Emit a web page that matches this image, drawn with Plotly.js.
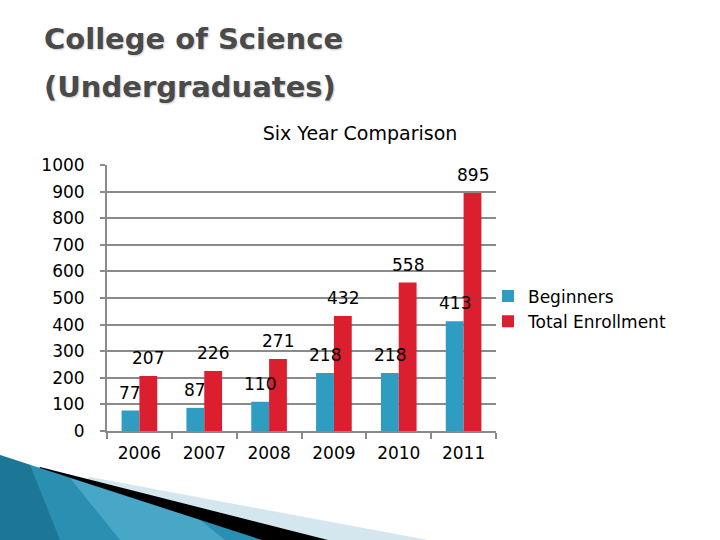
<!DOCTYPE html>
<html>
<head>
<meta charset="utf-8">
<script src="https://cdn.plot.ly/plotly-3.0.1.min.js"></script>
<style>
  html, body { margin: 0; padding: 0; background: #fff; }
  #chart { width: 720px; height: 540px; }
</style>
</head>
<body>
<div id="chart"></div>
<script>
const years = ['2006', '2007', '2008', '2009', '2010', '2011'];
const beginners = [77, 87, 110, 218, 218, 413];
const totalEnrollment = [207, 226, 271, 432, 558, 895];
const seriesNames = ['Beginners', 'Total Enrollment'];

// plot box in pixels
const ML = 107, MR = 224, MT = 165, MB = 109;
const PW = 720 - ML - MR, PH = 540 - MT - MB;
const px = (x) => (x - ML) / PW;
const py = (y) => (540 - MB - y) / PH;
const poly = (pts) => 'M' + pts.map(p => px(p[0]) + ',' + py(p[1])).join(' L') + ' Z';

const font = 'DejaVu Sans, sans-serif';
const grey = '#8a8a8a';

const data = [
  { x: years, y: beginners, name: seriesNames[0], type: 'bar', marker: { color: '#2e9dc1' } },
  { x: years, y: totalEnrollment, name: seriesNames[1], type: 'bar', marker: { color: '#dc1f2e' } },
];

// value labels; x given as category index so numeric-looking names are not read as numbers
const labels = [];
years.forEach((yr, i) => {
  labels.push({ x: i, y: beginners[i], text: String(beginners[i]), xshift: -9 });
  labels.push({ x: i, y: totalEnrollment[i], text: String(totalEnrollment[i]), xshift: 9 });
});
labels.forEach(a => Object.assign(a, {
  xref: 'x', yref: 'y', showarrow: false, yshift: 18, yanchor: 'middle',
  font: { family: font, size: 17, color: '#000' },
}));

labels.push({
  xref: 'paper', yref: 'paper', x: px(42), y: py(39), xanchor: 'left', yanchor: 'middle',
  showarrow: false, text: '<b>College of Science</b>',
  font: { family: font, size: 29, color: '#4a4a4a', shadow: '1px 1px 2px #c8c8c8' },
});
labels.push({
  xref: 'paper', yref: 'paper', x: px(42), y: py(87), xanchor: 'left', yanchor: 'middle',
  showarrow: false, text: '<b>(Undergraduates)</b>',
  font: { family: font, size: 29, color: '#4a4a4a', shadow: '1px 1px 2px #c8c8c8' },
});

// decorative swoosh, bottom left
const shapes = [
  { type: 'path', xref: 'paper', yref: 'paper', path: poly([[90, 477], [428, 540], [0, 540]]),
    fillcolor: '#d5e7ee', line: { width: 0 } },
  { type: 'path', xref: 'paper', yref: 'paper', path: poly([[40, 467], [328, 540], [0, 540]]),
    fillcolor: '#000000', line: { width: 0 } },
  { type: 'path', xref: 'paper', yref: 'paper', path: poly([[0, 455], [262, 540], [0, 540]]),
    fillcolor: '#2a8fb0', line: { width: 0 } },
  { type: 'path', xref: 'paper', yref: 'paper', path: poly([[70, 478], [200, 520], [225, 540], [120, 540]]),
    fillcolor: '#6cc6e2', opacity: 0.45, line: { width: 0 } },
  { type: 'path', xref: 'paper', yref: 'paper', path: poly([[0, 455], [30, 465], [60, 540], [0, 540]]),
    fillcolor: '#0c5f7a', opacity: 0.5, line: { width: 0 } },
];

const layout = {
  width: 720, height: 540,
  margin: { l: ML, r: MR, t: MT, b: MB },
  paper_bgcolor: '#fff', plot_bgcolor: '#fff',
  font: { family: font, size: 17, color: '#000' },
  title: { text: 'Six Year Comparison', x: 0.5, xanchor: 'center', xref: 'container',
           y: 1 - 133 / 540, yanchor: 'middle', font: { family: font, size: 19, color: '#000' } },
  barmode: 'group', bargap: 0.45, bargroupgap: 0,
  xaxis: {
    type: 'category', range: [-0.5, years.length - 0.5], showgrid: false,
    showline: true, linecolor: grey, linewidth: 2,
    ticks: 'outside', tickson: 'boundaries', ticklen: 6, tickwidth: 2, tickcolor: grey,
    ticklabelstandoff: 6, tickfont: { family: font, size: 17, color: '#000' },
  },
  yaxis: {
    range: [0, 1000], dtick: 100, showgrid: true, gridcolor: grey, gridwidth: 2,
    showline: true, linecolor: grey, linewidth: 2, zeroline: false,
    ticks: 'outside', ticklen: 5, tickwidth: 2, tickcolor: grey,
    ticklabelstandoff: 12, tickfont: { family: font, size: 17, color: '#000' },
  },
  legend: { x: px(488), xanchor: 'left', y: py(309), yanchor: 'middle',
            font: { family: font, size: 17, color: '#000' }, bgcolor: 'rgba(0,0,0,0)' },
  annotations: labels,
  shapes: shapes,
};

Plotly.newPlot('chart', data, layout, { displayModeBar: false, staticPlot: true });
</script>
</body>
</html>
